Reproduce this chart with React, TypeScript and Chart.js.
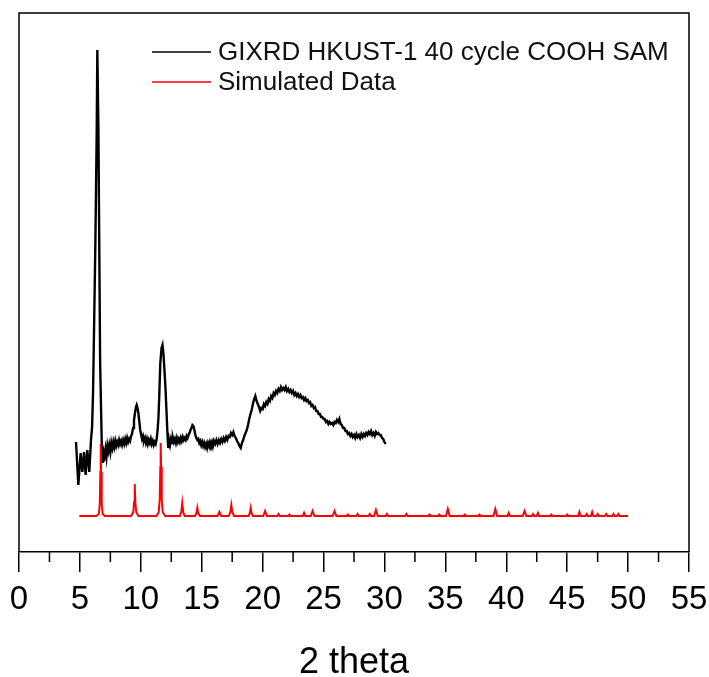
import React, { useEffect, useRef } from "react";
import { Chart, registerables } from "chart.js";

Chart.register(...registerables);

const seriesLabels = ["GIXRD HKUST-1 40 cycle COOH SAM", "Simulated Data"];
const seriesColors = ["#000000", "#ff0000"];
const xTitle = "2 theta";
const majorTicks = [0, 5, 10, 15, 20, 25, 30, 35, 40, 45, 50, 55];
const minorTicks = [2.5, 7.5, 12.5, 17.5, 22.5, 27.5, 32.5, 37.5, 42.5, 47.5, 52.5];
const yRange = [0, 539];

// [2theta, intensity (a.u.)]
const gixrdPoints: [number, number][] = [
  [4.68, 110], [4.87, 67], [5.06, 99], [5.2, 80], [5.34, 100], [5.47, 77], [5.61, 102], [5.77, 80],
  [5.91, 112], [6.0, 125], [6.08, 160], [6.17, 230], [6.27, 310], [6.38, 422], [6.43, 502], [6.52, 422],
  [6.66, 189], [6.8, 105], [6.87, 89], [6.95, 100], [7.02, 96], [7.1, 103], [7.18, 95], [7.26, 106],
  [7.33, 101], [7.41, 107], [7.5, 100], [7.58, 109], [7.66, 104], [7.74, 110], [7.82, 105], [7.9, 111],
  [7.98, 106], [8.06, 110], [8.14, 107], [8.22, 112], [8.3, 108], [8.38, 111], [8.46, 107], [8.55, 112],
  [8.64, 108], [8.72, 113], [8.8, 109], [8.88, 114], [8.96, 110], [9.04, 113], [9.12, 111], [9.2, 116],
  [9.28, 118], [9.36, 124], [9.44, 132], [9.52, 139], [9.6, 145], [9.66, 147], [9.73, 144], [9.8, 139],
  [9.88, 130], [9.95, 122], [10.03, 117], [10.1, 113], [10.18, 116], [10.26, 111], [10.34, 114],
  [10.42, 109], [10.5, 113], [10.58, 108], [10.66, 112], [10.74, 109], [10.82, 113], [10.9, 108],
  [10.98, 111], [11.06, 107], [11.14, 110], [11.22, 108], [11.3, 113], [11.38, 122], [11.45, 135],
  [11.52, 158], [11.6, 189], [11.7, 204], [11.78, 207], [11.86, 198], [11.94, 182], [12.02, 165],
  [12.1, 143], [12.18, 120], [12.25, 104], [12.32, 112], [12.4, 107], [12.48, 113], [12.56, 109],
  [12.64, 114], [12.72, 110], [12.8, 113], [12.88, 109], [12.96, 114], [13.04, 110], [13.12, 113],
  [13.2, 110], [13.28, 114], [13.36, 111], [13.44, 115], [13.52, 112], [13.6, 114], [13.68, 112],
  [13.76, 116], [13.84, 114], [13.92, 117], [14.0, 119], [14.08, 122], [14.16, 124], [14.24, 127],
  [14.32, 126], [14.4, 122], [14.48, 117], [14.56, 114], [14.64, 112], [14.72, 113], [14.8, 109],
  [14.88, 111], [14.96, 107], [15.04, 110], [15.12, 106], [15.2, 109], [15.28, 105], [15.36, 108],
  [15.44, 104], [15.52, 109], [15.6, 106], [15.68, 110], [15.76, 107], [15.84, 110], [15.92, 106],
  [16.0, 111], [16.1, 108], [16.2, 112], [16.3, 108], [16.4, 112], [16.5, 109], [16.6, 113], [16.7, 110],
  [16.8, 114], [16.9, 111], [17.0, 115], [17.1, 112], [17.2, 116], [17.3, 115], [17.4, 119], [17.5, 117],
  [17.6, 120], [17.7, 116], [17.8, 114], [17.9, 111], [18.0, 109], [18.1, 106], [18.2, 104], [18.3, 109],
  [18.4, 112], [18.5, 116], [18.6, 119], [18.7, 122], [18.8, 127], [18.9, 133], [19.0, 138], [19.1, 142],
  [19.2, 148], [19.3, 153], [19.4, 156], [19.5, 151], [19.6, 148], [19.7, 145], [19.8, 141], [19.9, 144],
  [20.0, 143], [20.1, 148], [20.2, 146], [20.3, 150], [20.4, 148], [20.5, 153], [20.6, 151], [20.7, 156],
  [20.8, 154], [20.9, 159], [21.0, 157], [21.1, 161], [21.2, 159], [21.3, 163], [21.4, 161], [21.5, 165],
  [21.6, 162], [21.7, 164], [21.8, 162], [21.9, 165], [22.0, 161], [22.1, 163], [22.2, 160], [22.3, 162],
  [22.4, 159], [22.5, 161], [22.6, 157], [22.7, 159], [22.8, 156], [22.9, 158], [23.0, 155], [23.1, 157],
  [23.2, 154], [23.3, 155], [23.4, 152], [23.5, 154], [23.6, 151], [23.7, 152], [23.8, 149], [23.9, 150],
  [24.0, 146], [24.1, 147], [24.2, 144], [24.3, 145], [24.4, 141], [24.5, 141], [24.6, 138], [24.7, 138],
  [24.8, 135], [24.9, 135], [25.0, 133], [25.1, 133], [25.2, 130], [25.3, 131], [25.4, 128], [25.5, 130],
  [25.6, 128], [25.7, 129], [25.8, 127], [25.9, 130], [26.0, 129], [26.1, 132], [26.2, 130], [26.3, 133],
  [26.4, 128], [26.5, 127], [26.6, 124], [26.7, 124], [26.8, 121], [26.9, 121], [27.0, 118], [27.1, 119],
  [27.2, 116], [27.3, 118], [27.4, 115], [27.5, 117], [27.6, 114], [27.7, 118], [27.8, 115], [27.9, 117],
  [28.0, 114], [28.1, 118], [28.2, 115], [28.3, 118], [28.4, 116], [28.5, 119], [28.6, 117], [28.7, 120],
  [28.8, 118], [28.9, 121], [29.0, 117], [29.1, 119], [29.2, 116], [29.3, 120], [29.4, 118], [29.5, 119],
  [29.6, 117], [29.7, 117], [29.8, 114], [29.9, 113], [30.0, 110], [30.1, 108],
];

const simulatedPoints: [number, number][] = [
  [4.95, 36], [6.35, 36], [6.55, 38], [6.63, 48], [6.68, 80], [6.71, 108], [6.74, 80], [6.79, 48],
  [6.87, 38], [7.05, 36], [9.2, 36], [9.38, 40], [9.45, 50], [9.5, 68], [9.55, 50], [9.62, 40], [9.8, 36],
  [11.3, 36], [11.47, 40], [11.55, 52], [11.6, 85], [11.63, 109], [11.67, 85], [11.72, 52], [11.8, 40],
  [12.0, 36], [13.2, 36], [13.32, 40], [13.4, 49], [13.48, 40], [13.6, 36], [14.45, 36], [14.57, 39],
  [14.64, 44], [14.71, 39], [14.85, 36], [16.3, 36], [16.45, 40], [16.6, 36], [17.22, 36], [17.35, 40],
  [17.43, 47], [17.51, 40], [17.65, 36], [18.85, 36], [18.95, 39], [19.02, 44], [19.09, 39], [19.2, 36],
  [20.05, 36], [20.2, 41], [20.35, 36], [21.2, 36], [21.3, 38], [21.4, 36], [22.1, 36], [22.2, 37.5],
  [22.3, 36], [23.3, 36], [23.4, 39], [23.5, 36], [23.95, 36], [24.1, 41], [24.25, 36], [25.75, 36],
  [25.9, 41], [26.05, 36], [26.9, 36], [27.0, 37.5], [27.1, 36], [27.7, 36], [27.8, 38], [27.9, 36],
  [28.7, 36], [28.8, 38], [28.9, 36], [29.15, 36], [29.3, 42], [29.45, 36], [30.1, 36], [30.2, 38],
  [30.3, 36], [31.7, 36], [31.8, 38], [31.9, 36], [33.6, 36], [33.7, 37.5], [33.8, 36], [34.4, 36],
  [34.5, 37.5], [34.6, 36], [35.05, 36], [35.2, 43], [35.35, 36], [36.5, 36], [36.6, 37.5], [36.7, 36],
  [37.7, 36], [37.8, 37.5], [37.9, 36], [38.95, 36], [39.1, 43], [39.25, 36], [40.1, 36], [40.2, 39],
  [40.3, 36], [41.35, 36], [41.5, 41], [41.65, 36], [42.1, 36], [42.2, 38], [42.3, 36], [42.5, 36],
  [42.6, 39], [42.7, 36], [43.6, 36], [43.7, 37.5], [43.8, 36], [44.9, 36], [45.0, 37.5], [45.1, 36],
  [45.9, 36], [46.0, 40], [46.1, 36], [46.5, 36], [46.6, 38], [46.7, 36], [46.95, 36], [47.05, 40],
  [47.15, 36], [47.4, 36], [47.5, 38], [47.6, 36], [48.1, 36], [48.2, 38], [48.3, 36], [48.7, 36],
  [48.8, 38], [48.9, 36], [49.1, 36], [49.2, 38], [49.3, 36], [50.0, 36],
];

const FONT = "'Liberation Sans', Arial, sans-serif";

const framePlugin = {
  id: "frameAndExtras",
  afterDraw(chart: any) {
    const { ctx, chartArea } = chart;
    const { left, right, top, bottom } = chartArea;
    const xs = chart.scales.x;
    ctx.save();
    ctx.strokeStyle = "#000";
    ctx.lineWidth = 1.5;
    ctx.beginPath();
    ctx.moveTo(left, bottom);
    ctx.lineTo(left, top);
    ctx.lineTo(right, top);
    ctx.lineTo(right, bottom);
    ctx.stroke();
    // minor ticks
    ctx.beginPath();
    for (const v of minorTicks) {
      const px = xs.getPixelForValue(v);
      ctx.moveTo(px, bottom);
      ctx.lineTo(px, bottom + 10);
    }
    ctx.stroke();
    // legend
    ctx.font = `26px ${FONT}`;
    ctx.textBaseline = "middle";
    ctx.textAlign = "left";
    chart.data.datasets.forEach((ds: any, i: number) => {
      const y = top + 39 + i * 30;
      ctx.strokeStyle = ds.borderColor;
      ctx.lineWidth = 1.5;
      ctx.beginPath();
      ctx.moveTo(left + 133, y);
      ctx.lineTo(left + 192, y);
      ctx.stroke();
      ctx.fillStyle = "#111";
      ctx.fillText(ds.label, left + 199, y + 1);
    });
    ctx.restore();
  },
};

export default function App() {
  const canvasRef = useRef<HTMLCanvasElement | null>(null);

  useEffect(() => {
    document.body.style.margin = "0";
    document.body.style.overflow = "hidden";
    const canvas = canvasRef.current;
    if (!canvas) return;
    const chart = new Chart(canvas, {
      type: "line",
      data: {
        datasets: [
          {
            label: seriesLabels[0],
            data: gixrdPoints.map(([x, y]) => ({ x, y })),
            borderColor: seriesColors[0],
            borderWidth: 2.4,
            pointRadius: 0,
            tension: 0,
            order: 1,
          },
          {
            label: seriesLabels[1],
            data: simulatedPoints.map(([x, y]) => ({ x, y })),
            borderColor: seriesColors[1],
            borderWidth: 2,
            pointRadius: 0,
            tension: 0,
            order: 0,
          },
        ],
      },
      options: {
        responsive: false,
        animation: false,
        devicePixelRatio: 1,
        layout: { padding: { left: 19, right: 20, top: 13, bottom: 0 } },
        plugins: {
          legend: { display: false },
          tooltip: { enabled: false },
        },
        scales: {
          x: {
            type: "linear",
            min: majorTicks[0],
            max: majorTicks[majorTicks.length - 1],
            afterBuildTicks: (scale: any) => {
              scale.ticks = majorTicks.map((v) => ({ value: v }));
            },
            afterFit: (scale: any) => {
              scale.height = 125;
              scale.paddingLeft = 0;
              scale.paddingRight = 0;
            },
            ticks: {
              color: "#000",
              font: { family: FONT, size: 33 },
              padding: 8,
              maxRotation: 0,
              autoSkip: false,
            },
            grid: {
              display: true,
              drawOnChartArea: false,
              drawTicks: true,
              tickLength: 20,
              color: "#000",
              lineWidth: 1.5,
            },
            border: { display: true, color: "#000", width: 1.5 },
            title: {
              display: true,
              text: xTitle,
              color: "#000",
              font: { family: FONT, size: 36, lineHeight: 0.8 },
              padding: 0,
            },
          },
          y: {
            display: false,
            min: yRange[0],
            max: yRange[1],
          },
        },
      },
      plugins: [framePlugin],
    });
    return () => chart.destroy();
  }, []);

  return (
    <div style={{ width: 709, height: 677 }}>
      <canvas ref={canvasRef} width={709} height={677} style={{ display: "block" }} />
    </div>
  );
}
